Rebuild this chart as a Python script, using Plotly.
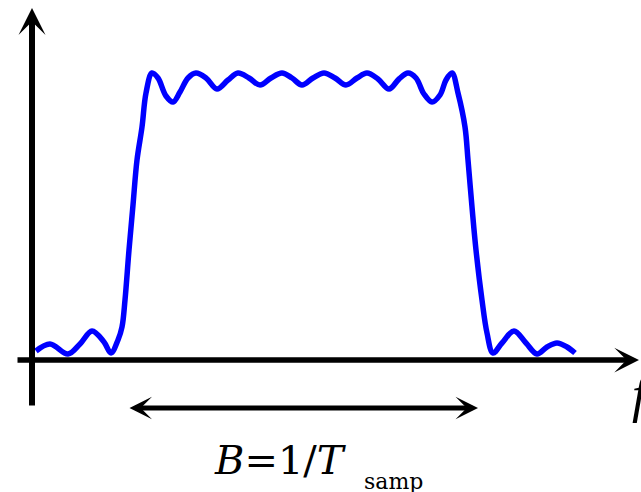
import plotly.graph_objects as go

# Frequency response (arbitrary units, f=0 at the vertical axis)
freq = [4, 18, 36, 48, 60, 72, 79, 86, 90, 93, 97, 101, 105, 110, 114, 120, 126, 134, 141,
        148, 156, 164, 174, 185, 196, 206, 217, 228, 239, 250, 260, 270, 281, 292, 303, 314,
        325, 335, 346, 357, 367, 376, 384, 392, 400, 408, 414, 420, 426, 433, 436, 440, 444,
        450, 455, 461, 470, 482, 494, 505, 515, 525, 535, 543]
amp = [9, 16, 6, 16, 29, 18, 7, 20, 33, 60, 110, 155, 200, 233, 267, 287, 282, 264, 258,
       268, 282, 287, 282, 271, 280, 287, 282, 275, 282, 287, 282, 275, 282, 287, 282, 275,
       282, 287, 281, 271, 281, 287, 282, 266, 258, 265, 280, 287, 267, 233, 200, 153, 110,
       60, 27, 7, 17, 29, 17, 6, 13, 17, 13, 7]

# Bandwidth arrow ends
band_start = 96
band_end = 446

fig = go.Figure()
fig.add_trace(go.Scatter(x=freq, y=amp, mode="lines",
                         line=dict(color="#0000ff", width=5.5, shape="spline", smoothing=1.0),
                         hoverinfo="skip", showlegend=False))

arrow_common = dict(xref="x", yref="y", axref="x", ayref="y", text="",
                    showarrow=True, arrowhead=3, arrowsize=0.75, arrowcolor="black")

annotations = [
    # vertical axis
    dict(x=0, y=352, ax=0, ay=-47, arrowwidth=6, **arrow_common),
    # horizontal axis
    dict(x=607, y=0, ax=-16, ay=0, arrowwidth=5.5, **arrow_common),
    # bandwidth double arrow
    dict(x=band_end, y=-48, ax=band_start, ay=-48, arrowwidth=5,
         arrowside="end+start", **arrow_common),
    dict(x=180, y=-100, xref="x", yref="y", text="<i>B</i>=1/<i>T</i>", showarrow=False,
         xanchor="left", yanchor="middle",
         font=dict(family="DejaVu Serif", size=40, color="black")),
    dict(x=330, y=-121, xref="x", yref="y", text="samp", showarrow=False,
         xanchor="left", yanchor="middle",
         font=dict(family="DejaVu Serif", size=22, color="black")),
    dict(x=598, y=-34, xref="x", yref="y", text="<i>f</i>", showarrow=False,
         xanchor="left", yanchor="middle",
         font=dict(family="Liberation Serif", size=52, color="black")),
]

fig.update_layout(
    width=641, height=492,
    margin=dict(l=0, r=0, t=0, b=0),
    paper_bgcolor="white", plot_bgcolor="white",
    xaxis=dict(range=[-32, 609], visible=False, fixedrange=True),
    yaxis=dict(range=[-132, 360], visible=False, fixedrange=True),
    annotations=annotations,
    showlegend=False,
)

fig.write_html("out.html", config={"displayModeBar": False},
               post_script="document.body.style.margin='0';document.body.style.overflow='hidden';")
